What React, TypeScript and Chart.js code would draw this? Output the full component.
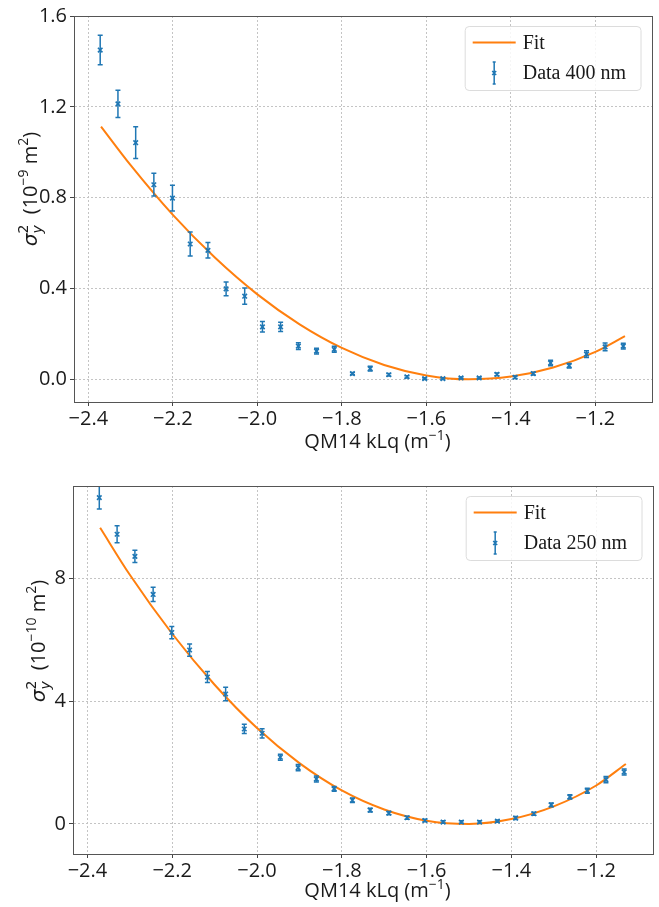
import React, { useEffect, useRef } from 'react';
import { Chart, registerables } from 'chart.js';
Chart.register(...registerables);

// ---------- data ----------
const xTickValues = [-2.4, -2.2, -2.0, -1.8, -1.6, -1.4, -1.2];
const yTicksTop = [0.0, 0.4, 0.8, 1.2, 1.6];
const yTicksBottom = [0, 4, 8];

const kValues = [
  -2.372, -2.330, -2.288, -2.245, -2.201, -2.159, -2.117, -2.074, -2.030, -1.988,
  -1.945, -1.903, -1.860, -1.818, -1.775, -1.733, -1.689, -1.646, -1.604, -1.561,
  -1.518, -1.475, -1.433, -1.390, -1.347, -1.306, -1.262, -1.221, -1.177, -1.134,
];

const sigma400 = [
  1.45, 1.213, 1.042, 0.857, 0.798, 0.596, 0.568, 0.398, 0.366, 0.231,
  0.231, 0.146, 0.124, 0.132, 0.025, 0.047, 0.020, 0.011, 0.003, 0.003,
  0.006, 0.006, 0.022, 0.009, 0.025, 0.072, 0.060, 0.111, 0.143, 0.146,
];
const err400 = [
  0.065, 0.06, 0.07, 0.05, 0.057, 0.053, 0.034, 0.03, 0.036, 0.023,
  0.02, 0.015, 0.013, 0.013, 0.005, 0.01, 0.005, 0.005, 0.004, 0.004,
  0.004, 0.004, 0.006, 0.005, 0.006, 0.012, 0.01, 0.015, 0.017, 0.013,
];

const sigma250 = [
  10.62, 9.43, 8.71, 7.47, 6.23, 5.66, 4.78, 4.23, 3.09, 2.95,
  2.17, 1.83, 1.46, 1.14, 0.77, 0.45, 0.35, 0.20, 0.11, 0.06,
  0.06, 0.06, 0.09, 0.19, 0.33, 0.62, 0.88, 1.08, 1.44, 1.69,
];
const err250 = [
  0.37, 0.28, 0.2, 0.23, 0.2, 0.2, 0.18, 0.22, 0.15, 0.15,
  0.1, 0.1, 0.1, 0.08, 0.07, 0.06, 0.05, 0.05, 0.04, 0.04,
  0.04, 0.04, 0.04, 0.05, 0.05, 0.06, 0.07, 0.08, 0.1, 0.1,
];

const fitK = [-2.37, -2.3, -2.2, -2.1, -2.0, -1.9, -1.8, -1.7, -1.6, -1.5, -1.4, -1.3, -1.2, -1.13];
const fit400 = [1.113, 0.943, 0.724, 0.535, 0.374, 0.242, 0.138, 0.063, 0.017, 0.0, 0.012, 0.052, 0.121, 0.19];
const fit250 = [9.64, 8.11, 6.19, 4.53, 3.12, 1.98, 1.09, 0.47, 0.105, 0.0, 0.157, 0.57, 1.25, 1.95];

// ---------- styling ----------
const BLUE = '#1f77b4';
const ORANGE = '#ff7f0e';
const TEXT = '#1a1a1a';
const SANS = '"Open Sans", "DejaVu Sans", sans-serif';
const SERIF = '"Liberation Serif", "DejaVu Serif", serif';
const MATH = '"DejaVu Sans", sans-serif';

type Piece = { t: string; size: number; it?: boolean; dy?: number; stack?: boolean; fam?: string };

function pieceFont(p: Piece) {
  return `${p.it ? 'italic ' : ''}${p.size}px ${p.fam || SANS}`;
}
function measureRich(ctx: CanvasRenderingContext2D, pieces: Piece[]) {
  let w = 0;
  let pending = 0;
  for (const p of pieces) {
    ctx.font = pieceFont(p);
    const pw = ctx.measureText(p.t).width;
    if (p.stack) { pending = pw; continue; }
    w += Math.max(pw, pending);
    pending = 0;
  }
  return w;
}
function drawRich(ctx: CanvasRenderingContext2D, pieces: Piece[], x0: number, y0: number) {
  let x = x0;
  let pending = 0;
  ctx.textBaseline = 'alphabetic';
  ctx.textAlign = 'left';
  for (const p of pieces) {
    ctx.font = pieceFont(p);
    const pw = ctx.measureText(p.t).width;
    ctx.fillText(p.t, x, y0 + (p.dy || 0));
    if (p.stack) { pending = pw; continue; }
    x += Math.max(pw, pending);
    pending = 0;
  }
}

type Panel = {
  values: number[];
  errors: number[];
  fit: number[];
  yTicks: number[];
  yMin: number;
  yMax: number;
  yDecimals: number;
  dataLabel: string;
  exponent: string;
  height: number;
  padTop: number;
  padRight: number;
  yAxisWidth: number;
  xAxisHeight: number;
  yTitleX: number;
  yTitleY: number;
  xTitleBaseline: number;
};

function makeDecor(p: Panel) {
  return {
    id: 'decor',
    afterDatasetDraw(chart: any, args: any) {
      if (args.index !== 1) return;
      const ctx = chart.ctx as CanvasRenderingContext2D;
      const a = chart.chartArea;
      const xs = chart.scales.x;
      const ys = chart.scales.y;
      ctx.save();
      ctx.beginPath();
      ctx.rect(a.left, a.top, a.right - a.left, a.bottom - a.top);
      ctx.clip();
      ctx.strokeStyle = BLUE;
      ctx.lineWidth = 1.5;
      const cap = 2.5;
      for (let i = 0; i < kValues.length; i++) {
        const px = xs.getPixelForValue(kValues[i]);
        const y1 = ys.getPixelForValue(p.values[i] + p.errors[i]);
        const y2 = ys.getPixelForValue(p.values[i] - p.errors[i]);
        ctx.beginPath();
        ctx.moveTo(px, y1); ctx.lineTo(px, y2);
        ctx.moveTo(px - cap, y1); ctx.lineTo(px + cap, y1);
        ctx.moveTo(px - cap, y2); ctx.lineTo(px + cap, y2);
        ctx.stroke();
      }
      ctx.restore();
    },
    afterDraw(chart: any) {
      const ctx = chart.ctx as CanvasRenderingContext2D;
      const a = chart.chartArea;
      ctx.save();
      // frame
      ctx.strokeStyle = '#555';
      ctx.lineWidth = 1;
      ctx.strokeRect(Math.round(a.left) + 0.5, Math.round(a.top) + 0.5, Math.round(a.right - a.left), Math.round(a.bottom - a.top));

      // legend
      ctx.font = `20px ${SERIF}`;
      const tw = Math.max(ctx.measureText('Fit').width, ctx.measureText(p.dataLabel).width);
      const bw = 7.5 + 43 + 7 + tw + 15;
      const bh = 64;
      const bx = a.right - 11 - bw;
      const by = a.top + 10.5;
      ctx.beginPath();
      (ctx as any).roundRect(bx, by, bw, bh, 4);
      ctx.fillStyle = 'rgba(255,255,255,0.85)';
      ctx.fill();
      ctx.strokeStyle = '#dcdcdc';
      ctx.stroke();
      const r1 = by + 16;
      const r2 = by + 46.5;
      ctx.strokeStyle = ORANGE;
      ctx.lineWidth = 2;
      ctx.beginPath();
      ctx.moveTo(bx + 7.5, r1); ctx.lineTo(bx + 50.5, r1);
      ctx.stroke();
      const hx = bx + 7.5 + 21.5;
      ctx.strokeStyle = BLUE;
      ctx.lineWidth = 1.5;
      ctx.beginPath();
      ctx.moveTo(hx, r2 - 11); ctx.lineTo(hx, r2 + 11);
      ctx.moveTo(hx - 1.5, r2 - 11); ctx.lineTo(hx + 1.5, r2 - 11);
      ctx.moveTo(hx - 1.5, r2 + 11); ctx.lineTo(hx + 1.5, r2 + 11);
      ctx.moveTo(hx - 2, r2 - 2); ctx.lineTo(hx + 2, r2 + 2);
      ctx.moveTo(hx - 2, r2 + 2); ctx.lineTo(hx + 2, r2 - 2);
      ctx.stroke();
      ctx.fillStyle = TEXT;
      ctx.font = `20px ${SERIF}`;
      ctx.textBaseline = 'middle';
      ctx.textAlign = 'left';
      ctx.fillText('Fit', bx + 57.5, r1 + 1);
      ctx.fillText(p.dataLabel, bx + 57.5, r2 + 1);

      // x title
      const xPieces: Piece[] = [
        { t: 'QM14 kLq (m', size: 20 },
        { t: '−1', size: 14, dy: -8 },
        { t: ')', size: 20 },
      ];
      ctx.fillStyle = TEXT;
      const xw = measureRich(ctx, xPieces);
      drawRich(ctx, xPieces, 377.5 - xw / 2, p.xTitleBaseline);

      // y title
      const yPieces: Piece[] = [
        { t: 'σ', size: 20, it: true, fam: MATH },
        { t: 'y', size: 14, it: true, dy: 5, stack: true, fam: MATH },
        { t: '2', size: 14, dy: -9, fam: MATH },
        { t: '  (10', size: 20 },
        { t: p.exponent, size: 14, dy: -9 },
        { t: ' m', size: 20 },
        { t: '2', size: 14, dy: -9 },
        { t: ')', size: 20 },
      ];
      const yw = measureRich(ctx, yPieces);
      ctx.translate(p.yTitleX, p.yTitleY);
      ctx.rotate(-Math.PI / 2);
      drawRich(ctx, yPieces, -yw / 2, 0);
      ctx.restore();
    },
  };
}

function buildConfig(p: Panel): any {
  const tickFont = { family: SANS, size: 20 };
  const grid = {
    color: '#c4c4c4',
    lineWidth: 1,
    drawTicks: true,
    tickLength: 4,
    tickColor: '#444',
    tickWidth: 1,
    tickBorderDash: [],
  };
  const border = { display: true, color: '#555', width: 1, dash: [2, 2] };
  return {
    type: 'scatter',
    data: {
      datasets: [
        {
          label: p.dataLabel,
          data: kValues.map((x, i) => ({ x, y: p.values[i] })),
          showLine: false,
          pointStyle: 'crossRot',
          pointRadius: 3.2,
          pointBorderWidth: 1.6,
          borderWidth: 1.6,
          borderColor: BLUE,
          backgroundColor: BLUE,
          pointBorderColor: BLUE,
        },
        {
          label: 'Fit',
          data: fitK.map((x, i) => ({ x, y: p.fit[i] })),
          showLine: true,
          pointRadius: 0,
          borderColor: ORANGE,
          backgroundColor: ORANGE,
          borderWidth: 2,
          cubicInterpolationMode: 'monotone',
          fill: false,
        },
      ],
    },
    options: {
      responsive: false,
      animation: false,
      events: [],
      layout: { padding: { top: p.padTop, right: p.padRight, left: 0, bottom: 0 } },
      plugins: { legend: { display: false }, tooltip: { enabled: false }, title: { display: false } },
      scales: {
        x: {
          type: 'linear',
          min: -2.434,
          max: -1.066,
          afterFit: (s: any) => { s.height = p.xAxisHeight; },
          afterBuildTicks: (s: any) => { s.ticks = xTickValues.map((value) => ({ value })); },
          ticks: {
            font: tickFont,
            color: TEXT,
            padding: 1,
            maxRotation: 0,
            autoSkip: false,
            callback: (v: any) => Number(v).toFixed(1).replace('-', '−'),
          },
          grid,
          border,
        },
        y: {
          type: 'linear',
          min: p.yMin,
          max: p.yMax,
          afterFit: (s: any) => { s.width = p.yAxisWidth; },
          afterBuildTicks: (s: any) => { s.ticks = p.yTicks.map((value) => ({ value })); },
          ticks: {
            font: tickFont,
            color: TEXT,
            padding: 3,
            autoSkip: false,
            callback: (v: any) => Number(v).toFixed(p.yDecimals),
          },
          grid,
          border,
        },
      },
    },
    plugins: [makeDecor(p)],
  };
}

function ChartPanel({ panel, top }: { panel: Panel; top: number }) {
  const ref = useRef<HTMLCanvasElement | null>(null);
  useEffect(() => {
    if (!ref.current) return;
    const chart = new Chart(ref.current, buildConfig(panel));
    return () => chart.destroy();
  }, [panel]);
  return (
    <canvas
      ref={ref}
      width={659}
      height={panel.height}
      style={{ position: 'absolute', left: 0, top, width: 659, height: panel.height, display: 'block' }}
    />
  );
}

const topPanel: Panel = {
  values: sigma400,
  errors: err400,
  fit: fit400,
  yTicks: yTicksTop,
  yMin: -0.1,
  yMax: 1.6,
  yDecimals: 1,
  dataLabel: 'Data 400 nm',
  exponent: '−9',
  height: 460,
  padTop: 16,
  padRight: 7,
  yAxisWidth: 74,
  xAxisHeight: 58,
  yTitleX: 37,
  yTitleY: 189,
  xTitleBaseline: 448,
};

const bottomPanel: Panel = {
  values: sigma250,
  errors: err250,
  fit: fit250,
  yTicks: yTicksBottom,
  yMin: -0.98,
  yMax: 11.0,
  yDecimals: 0,
  dataLabel: 'Data 250 nm',
  exponent: '−10',
  height: 447,
  padTop: 26,
  padRight: 6,
  yAxisWidth: 73,
  xAxisHeight: 53,
  yTitleX: 45,
  yTitleY: 181,
  xTitleBaseline: 437,
};

export default function App() {
  return (
    <div style={{ position: 'absolute', left: 0, top: 0, width: 659, height: 907, background: '#fff' }}>
      <ChartPanel panel={topPanel} top={0} />
      <ChartPanel panel={bottomPanel} top={460} />
    </div>
  );
}
